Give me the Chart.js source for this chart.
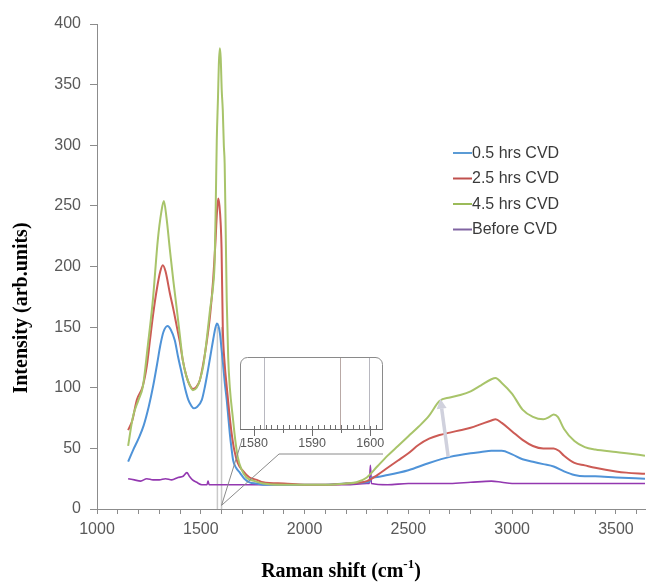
<!DOCTYPE html>
<html><head><meta charset="utf-8">
<script src="https://cdn.jsdelivr.net/npm/chart.js@4/dist/chart.umd.min.js"></script>
<style>html,body{margin:0;padding:0;background:#fff}#wrap{width:649px;height:582px}</style>
</head><body><div id="wrap"><canvas id="c" width="649" height="582"></canvas></div>
<script>
const seriesLabels = ["0.5 hrs CVD", "2.5 hrs CVD", "4.5 hrs CVD", "Before CVD"];

const blueX = [1150,1175,1200,1225,1250,1270,1290,1305,1320,1340,1355,1375,1390,1408,1425,1440,1455,1466,1480,1505,1520,1535,1550,1560,1570,1578,1585,1592,1600,1607,1615,1625,1633,1640,1648,1656,1670,1688,1710,1735,1770,1800,1900,2000,2100,2200,2300,2315,2320,2330,2400,2500,2600,2700,2800,2850,2900,2950,3000,3050,3100,3150,3200,3250,3300,3350,3400,3500,3640];
const blueY = [39,49,58,69,85,101,120,135,146,151,148,139,126,112,99,90,85,83,84,90,101,115,130,140,149,153,151,145,132,120,105,90,75,62,50,40,34,30,25,22,21,20,20,20,20,21,22,23,26,26,28,32,38,43,46,47,48,48,45,41,39,37,35,31,28,27,27,26,25];

const redX = [1150,1170,1192,1220,1240,1255,1270,1288,1305,1317,1330,1351,1370,1385,1400,1413,1430,1447,1462,1480,1495,1510,1528,1545,1560,1570,1578,1584,1590,1596,1600,1606,1615,1625,1637,1649,1662,1678,1700,1735,1770,1800,1900,2000,2100,2200,2300,2350,2400,2450,2500,2550,2600,2650,2700,2750,2800,2850,2900,2920,2950,3000,3050,3100,3150,3200,3225,3250,3300,3350,3400,3500,3550,3640];
const redY = [65,73,90,101,118,139,160,181,196,201,196,178,163,150,137,123,110,102,99,101,106,118,137,160,190,218,245,256,250,235,215,150,120,101,80,62,48,38,32,26,24,22,21,20,20,21,23,28,34,40,46,53,58,61,63,65,67,70,73,74,71,64,57,52,50,50,48,44,38,36,34,31,30,29];

const greenX = [1150,1173,1200,1221,1245,1269,1293,1310,1322,1335,1351,1368,1385,1400,1413,1430,1447,1462,1480,1495,1512,1528,1545,1560,1567,1572,1577,1583,1587,1592,1596,1601,1606,1611,1615,1620,1625,1632,1640,1654,1666,1678,1695,1720,1760,1800,1900,2000,2100,2200,2250,2300,2350,2400,2450,2500,2550,2600,2650,2700,2750,2800,2850,2900,2920,2950,3000,3050,3100,3150,3180,3200,3220,3250,3300,3350,3400,3500,3550,3640];
const greenY = [52,76,90,101,135,172,222,245,254,240,214,188,164,142,123,110,102,98,100,106,118,139,165,185,205,250,304,340,367,380,372,345,329,300,285,230,172,125,100,76,57,43,33,26,23,21,20,20,20,21,22,26,35,44,52,60,68,77,89,92,94,97,102,107,108,104,95,82,76,74,76,78,76,66,56,51,49,47,46,44];

const beforeX = [1150,1180,1210,1240,1270,1300,1330,1360,1390,1415,1433,1445,1460,1480,1505,1530,1535,1540,1600,1700,1800,1900,2000,2100,2200,2300,2312,2317,2322,2400,2500,2600,2700,2800,2900,2950,3000,3100,3200,3300,3400,3500,3640];
const beforeY = [25,24,23,25,24,24,25,24,26,27,30,27,24,22,20,20,23,20,20,20,20,20,20,20,20,21,21,36,21,20,21,21,21,22,23,22,21,21,21,21,21,21,21];

const xTickLabels = [1000,1500,2000,2500,3000,3500];
const yTickLabels = [0,50,100,150,200,250,300,350,400];
const insetTickLabels = [1580,1590,1600];
const insetMarkers = [1581.7,1594.8,1599.8];
const zoomLines = [1580,1600];
const arrowFrom = [2692,43];
const arrowTo = [2654,91];

const colors = ['#4f93d8','#cc5b55','#a8c46a','#9338b0'];
const legendColors = ['#5b9bd5','#c0504d','#9bbb59','#8064a2'];

function pts(xs, ys){ return xs.map((x,i)=>({x:x, y:ys[i]})); }

const datasets = [
  [blueX,blueY],[redX,redY],[greenX,greenY],[beforeX,beforeY]
].map((s,i)=>({
  label: seriesLabels[i],
  data: pts(s[0], s[1]),
  borderColor: colors[i],
  borderWidth: i===3 ? 1.6 : 2,
  pointRadius: 0,
  fill: false,
  cubicInterpolationMode: 'monotone'
}));
datasets[0].order = 3; datasets[1].order = 2; datasets[2].order = 1; datasets[3].order = 4;

const SANS = '"Liberation Sans", Arial, sans-serif';
const SERIF = '"Liberation Serif", "Times New Roman", serif';

const decorations = {
  id: 'decorations',
  beforeDatasetsDraw(chart){
    const {ctx, scales:{x,y}} = chart;
    ctx.save();
    ctx.strokeStyle = '#c9c9c9';
    ctx.lineWidth = 1.5;
    zoomLines.forEach(v=>{
      const px = x.getPixelForValue(v);
      ctx.beginPath();
      ctx.moveTo(px, y.getPixelForValue(0));
      ctx.lineTo(px, y.getPixelForValue(150));
      ctx.stroke();
    });
    ctx.restore();
  },
  afterDatasetsDraw(chart){
    const {ctx, scales:{x,y}} = chart;
    ctx.save();
    // arrow
    const x1 = x.getPixelForValue(arrowFrom[0]), y1 = y.getPixelForValue(arrowFrom[1]);
    const x2 = x.getPixelForValue(arrowTo[0]), y2 = y.getPixelForValue(arrowTo[1]);
    const ang = Math.atan2(y2-y1, x2-x1);
    const hl = 10, hw = 5;
    const bx = x2 - hl*Math.cos(ang), by = y2 - hl*Math.sin(ang);
    ctx.strokeStyle = '#d0d1dd'; ctx.fillStyle = '#d0d1dd';
    ctx.lineWidth = 3.5;
    ctx.beginPath(); ctx.moveTo(x1,y1); ctx.lineTo(bx,by); ctx.stroke();
    ctx.beginPath();
    ctx.moveTo(x2,y2);
    ctx.lineTo(bx + hw*Math.sin(ang), by - hw*Math.cos(ang));
    ctx.lineTo(bx - hw*Math.sin(ang), by + hw*Math.cos(ang));
    ctx.closePath(); ctx.fill();

    // callout lines
    const cx = x.getPixelForValue(1600), cy = y.getPixelForValue(3);
    ctx.strokeStyle = '#8a8a8a'; ctx.lineWidth = 1;
    ctx.beginPath();
    ctx.moveTo(cx, cy); ctx.lineTo(242, 440);
    ctx.moveTo(cx, cy); ctx.lineTo(279, 454); ctx.lineTo(383, 454);
    ctx.stroke();

    // inset box
    const L = 240, R = 383, T = 357, B = 429, r = 7;
    const v0 = 1577.6, v1 = 1602.2;
    const ip = v => L + (v - v0) / (v1 - v0) * (R - L);
    ctx.fillStyle = '#ffffff';
    ctx.beginPath();
    ctx.moveTo(L, B); ctx.lineTo(L, T + r); ctx.arcTo(L, T, L + r, T, r);
    ctx.lineTo(R - r, T); ctx.arcTo(R, T, R, T + r, r); ctx.lineTo(R, B);
    ctx.closePath(); ctx.fill();
    ctx.strokeStyle = '#8a8a8a'; ctx.lineWidth = 1;
    ctx.beginPath();
    ctx.moveTo(L+0.5, B); ctx.lineTo(L+0.5, T + r); ctx.arcTo(L+0.5, T+0.5, L + r, T+0.5, r);
    ctx.lineTo(R - r, T+0.5); ctx.arcTo(R-0.5, T+0.5, R-0.5, T + r, r); ctx.lineTo(R-0.5, B);
    ctx.stroke();
    insetMarkers.forEach((v,i)=>{
      ctx.strokeStyle = i===1 ? '#b9a9a6' : '#b8b8c0';
      ctx.beginPath(); ctx.moveTo(Math.round(ip(v))+0.5, T+1); ctx.lineTo(Math.round(ip(v))+0.5, B); ctx.stroke();
    });
    ctx.strokeStyle = '#6e6e6e';
    ctx.beginPath(); ctx.moveTo(L, B+0.5); ctx.lineTo(R, B+0.5); ctx.stroke();
    ctx.beginPath();
    for (let v = 1580; v <= 1601; v++) {
      const px = Math.round(ip(v)) + 0.5;
      if (insetTickLabels.includes(v)) { ctx.moveTo(px, B - 3); ctx.lineTo(px, B + 7); }
      else if (v % 5 === 0) { ctx.moveTo(px, B - 4); ctx.lineTo(px, B + 4); }
      else { ctx.moveTo(px, B - 4); ctx.lineTo(px, B); }
    }
    ctx.stroke();
    ctx.fillStyle = '#595959';
    ctx.font = '12.5px ' + SANS;
    ctx.textAlign = 'center'; ctx.textBaseline = 'middle';
    insetTickLabels.forEach(v=>{ ctx.fillText(String(v), ip(v), 444); });

    // legend
    ctx.font = '16px ' + SANS;
    ctx.textAlign = 'left'; ctx.textBaseline = 'middle';
    chart.data.datasets.forEach((d,i)=>{
      const yy = 153 + i * 25.5;
      ctx.strokeStyle = legendColors[i]; ctx.lineWidth = 2;
      ctx.beginPath(); ctx.moveTo(453, yy); ctx.lineTo(472, yy); ctx.stroke();
      ctx.fillStyle = '#3a3a3a';
      ctx.fillText(d.label, 472, yy + 0.5);
    });
    ctx.restore();
  },
  afterDraw(chart){
    const ctx = chart.ctx;
    ctx.save();
    ctx.fillStyle = '#000';
    const main = 'Raman shift (cm', sup = '-1', tail = ')';
    ctx.font = 'bold 20px ' + SERIF;
    const w1 = ctx.measureText(main).width, w3 = ctx.measureText(tail).width;
    ctx.font = 'bold 13px ' + SERIF;
    const w2 = ctx.measureText(sup).width;
    let sx = 341 - (w1 + w2 + w3) / 2;
    const base = 577;
    ctx.textAlign = 'left'; ctx.textBaseline = 'alphabetic';
    ctx.font = 'bold 20px ' + SERIF; ctx.fillText(main, sx, base);
    ctx.font = 'bold 13px ' + SERIF; ctx.fillText(sup, sx + w1, base - 9);
    ctx.font = 'bold 20px ' + SERIF; ctx.fillText(tail, sx + w1 + w2, base);
    ctx.translate(22, 308);
    ctx.rotate(-Math.PI/2);
    ctx.textAlign = 'center'; ctx.textBaseline = 'middle';
    ctx.font = 'bold 20px ' + SERIF;
    ctx.fillText('Intensity (arb.units)', 0, 0);
    ctx.restore();
  }
};

new Chart(document.getElementById('c'), {
  type: 'line',
  data: { datasets },
  plugins: [decorations],
  options: {
    responsive: false,
    animation: false,
    devicePixelRatio: 1,
    layout: { padding: { top: 24, right: 4, left: 0, bottom: 0 } },
    plugins: { legend: { display: false }, tooltip: { enabled: false } },
    scales: {
      x: {
        type: 'linear', min: 1000, max: 3640,
        afterFit: s => { s.height = 73; },
        border: { display: true, color: '#8c8c8c', width: 1 },
        grid: { drawOnChartArea: false, drawTicks: true, tickLength: 5, color: '#8c8c8c' },
        ticks: {
          stepSize: 100, autoSkip: false, includeBounds: false, maxRotation: 0, padding: 6,
          color: '#595959', font: { family: SANS, size: 16 },
          callback: v => xTickLabels.includes(v) ? String(v) : ''
        }
      },
      y: {
        min: 0, max: 400,
        afterFit: s => { s.width = 97; },
        border: { display: true, color: '#8c8c8c', width: 1 },
        grid: { drawOnChartArea: false, drawTicks: true, tickLength: 7, color: '#8c8c8c' },
        ticks: {
          stepSize: 50, padding: 9, color: '#595959', font: { family: SANS, size: 16 },
          callback: v => yTickLabels.includes(v) ? String(v) : ''
        }
      }
    }
  }
});
</script></body></html>
